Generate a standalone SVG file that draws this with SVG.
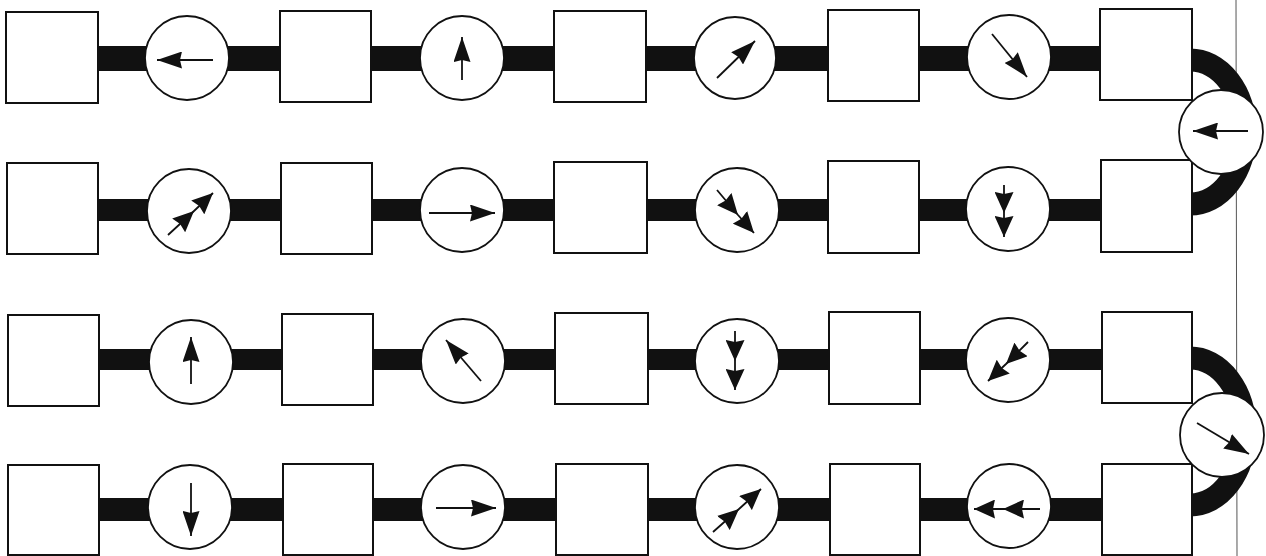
<svg xmlns="http://www.w3.org/2000/svg" width="1266" height="556" viewBox="0 0 1266 556">
<style>
.box{fill:#fff;stroke:#111;stroke-width:2}
.c{fill:#fff;stroke:#111;stroke-width:1.8}
.bar{fill:#111}
.arc{fill:none;stroke:#111;stroke-width:23}
.a{fill:none;stroke:#111;stroke-width:1.8;marker-end:url(#ah)}
.d{fill:none;stroke:#111;stroke-width:1.8;marker-mid:url(#ah2);marker-end:url(#ah2)}
.edge{stroke:#555;stroke-width:1}
</style>
<defs>
<marker id="ah" viewBox="0 0 25 17" refX="25" refY="8.5" markerWidth="25" markerHeight="17" markerUnits="userSpaceOnUse" orient="auto"><path d="M0,0 L25,8.5 L0,17 L2,8.5 z" fill="#111"/></marker>
<marker id="ah2" viewBox="0 0 21 19" refX="21" refY="9.5" markerWidth="21" markerHeight="19" markerUnits="userSpaceOnUse" orient="auto"><path d="M0,0 L21,9.5 L0,19 L2,9.5 z" fill="#111"/></marker>
</defs>
<line class="edge" x1="1236" y1="0" x2="1237" y2="556"/>
<g id="connectors">
<rect class="bar" x="98" y="46" width="1003" height="25"/>
<rect class="bar" x="98" y="199" width="1003" height="22"/>
<rect class="bar" x="98" y="349" width="1003" height="21"/>
<rect class="bar" x="98" y="498" width="1003" height="23"/>
<path class="arc" d="M1190,60 A55,72 0 0 1 1190,204"/>
<path class="arc" d="M1190,358 A55,73.5 0 0 1 1190,505"/>
</g>
<g id="r1b1"><rect class="box" x="6" y="12" width="92" height="91"/></g>
<g id="r1b2"><rect class="box" x="280" y="11" width="91" height="91"/></g>
<g id="r1b3"><rect class="box" x="554" y="11" width="92" height="91"/></g>
<g id="r1b4"><rect class="box" x="828" y="10" width="91" height="91"/></g>
<g id="r1b5"><rect class="box" x="1100" y="9" width="92" height="91"/></g>
<g id="r2b1"><rect class="box" x="7" y="163" width="91" height="91"/></g>
<g id="r2b2"><rect class="box" x="281" y="163" width="91" height="91"/></g>
<g id="r2b3"><rect class="box" x="554" y="162" width="93" height="91"/></g>
<g id="r2b4"><rect class="box" x="828" y="161" width="91" height="92"/></g>
<g id="r2b5"><rect class="box" x="1101" y="160" width="91" height="92"/></g>
<g id="r3b1"><rect class="box" x="8" y="315" width="91" height="91"/></g>
<g id="r3b2"><rect class="box" x="282" y="314" width="91" height="91"/></g>
<g id="r3b3"><rect class="box" x="555" y="313" width="93" height="91"/></g>
<g id="r3b4"><rect class="box" x="829" y="312" width="91" height="92"/></g>
<g id="r3b5"><rect class="box" x="1102" y="312" width="90" height="91"/></g>
<g id="r4b1"><rect class="box" x="8" y="465" width="91" height="90"/></g>
<g id="r4b2"><rect class="box" x="283" y="464" width="90" height="91"/></g>
<g id="r4b3"><rect class="box" x="556" y="464" width="92" height="91"/></g>
<g id="r4b4"><rect class="box" x="830" y="464" width="90" height="91"/></g>
<g id="r4b5"><rect class="box" x="1102" y="464" width="90" height="91"/></g>

<g id="r1c1"><circle class="c" cx="187" cy="58" r="42"/><path class="a" d="M213,60 L157,60"/></g>
<g id="r1c2"><circle class="c" cx="462" cy="58" r="42"/><path class="a" d="M462,80 L462,37"/></g>
<g id="r1c3"><circle class="c" cx="735" cy="58" r="41"/><path class="a" d="M717,78 L755,41"/></g>
<g id="r1c4"><circle class="c" cx="1009" cy="57" r="42"/><path class="a" d="M992,34 L1027,77"/></g>
<g id="t1"><circle class="c" cx="1221" cy="132" r="42"/><path class="a" d="M1248,131 L1193,131"/></g>

<g id="r2c1"><circle class="c" cx="189" cy="211" r="42"/><path class="d" d="M168,235 L194,211 L213,193"/></g>
<g id="r2c2"><circle class="c" cx="462" cy="210" r="42"/><path class="a" d="M429,213 L495,213"/></g>
<g id="r2c3"><circle class="c" cx="737" cy="210" r="42"/><path class="d" d="M717,190 L738,215 L754,233"/></g>
<g id="r2c4"><circle class="c" cx="1008" cy="209" r="42"/><path class="d" d="M1004,185 L1004,213 L1004,237"/></g>

<g id="r3c1"><circle class="c" cx="191" cy="362" r="42"/><path class="a" d="M191,384 L191,337"/></g>
<g id="r3c2"><circle class="c" cx="463" cy="361" r="42"/><path class="a" d="M481,381 L446,340"/></g>
<g id="r3c3"><circle class="c" cx="737" cy="361" r="42"/><path class="d" d="M735,331 L735,361 L735,390"/></g>
<g id="r3c4"><circle class="c" cx="1008" cy="360" r="42"/><path class="d" d="M1028,342 L1006,364 L988,381"/></g>
<g id="t2"><circle class="c" cx="1222" cy="435" r="42"/><path class="a" d="M1197,423 L1249,454"/></g>

<g id="r4c1"><circle class="c" cx="190" cy="507" r="42"/><path class="a" d="M191,483 L191,536"/></g>
<g id="r4c2"><circle class="c" cx="463" cy="507" r="42"/><path class="a" d="M436,508 L496,508"/></g>
<g id="r4c3"><circle class="c" cx="737" cy="507" r="42"/><path class="d" d="M713,532 L739,509 L761,489"/></g>
<g id="r4c4"><circle class="c" cx="1009" cy="506" r="42"/><path class="d" d="M1040,509 L1003,509 L974,509"/></g>
</svg>
